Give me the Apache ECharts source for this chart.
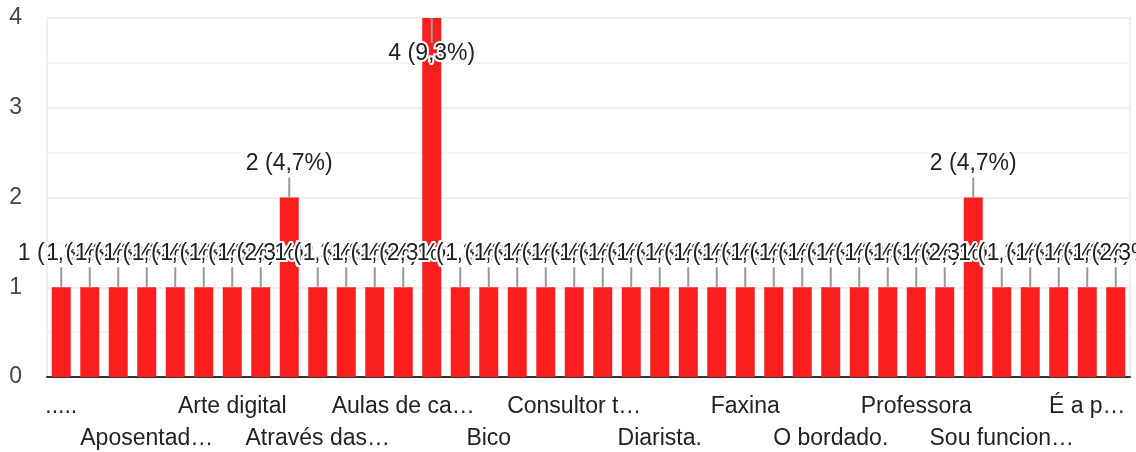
<!DOCTYPE html>
<html><head><meta charset="utf-8">
<script src="https://cdn.jsdelivr.net/npm/echarts@6/dist/echarts.min.js"></script>
<style>html,body{margin:0;padding:0;background:#fff}#c{width:1136px;height:452px}</style>
</head><body><div id="c"></div>
<script>
const categories = [".....","Administradora","Agricultor","Aposentad…","Aposentadoria","Arquiteta","Arte digital","Artesã","Artesanato","Através das…","Auditoria","Audiovisual","Aulas de ca…","Autônoma","Babá","Bico","Comércio","Confeitaria","Consultor t…","Costureira","Cuidadora","Diarista.","Doceira","Empresária","Faxina","Freelancer","Manicure","O bordado.","Pedreiro","Pensão","Professora","Revendedora","Servidor público","Sou funcion…","Trabalho informal","Uber","É a p…","Única renda"];
const values = [1,1,1,1,1,1,1,1,2,1,1,1,1,4,1,1,1,1,1,1,1,1,1,1,1,1,1,1,1,1,1,1,2,1,1,1,1,1];
const yTicks = [0,1,2,3,4];
const total = values.reduce((a,b)=>a+b,0);
const yMax = yTicks[yTicks.length-1];
const FONT = '"Liberation Sans", Arial, sans-serif';
const fmtPct = v => v + ' (' + (v/total*100).toFixed(1).replace('.', ',') + '%)';

const barData = values.map(v => {
  const d = {value: v};
  if (v >= yMax) d.label = {position: 'insideTop', distance: 24};
  return d;
});

const xLabelStyle = {fontFamily: FONT, fontSize: 23, color: '#222', hideOverlap: false};

const chart = echarts.init(document.getElementById('c'));
chart.setOption({
  animation: false,
  grid: {left: 47, right: 6, top: 18, bottom: 75, show: true, borderColor: '#eeeeee', borderWidth: 2, containLabel: false},
  xAxis: [{
    type: 'category', data: categories, position: 'bottom',
    axisLine: {lineStyle: {color: '#333', width: 2}},
    axisTick: {show: false},
    axisLabel: Object.assign({interval: i => i % 6 === 0, margin: 18}, xLabelStyle)
  }, {
    type: 'category', data: categories, position: 'bottom',
    axisLine: {show: false},
    axisTick: {show: false},
    axisLabel: Object.assign({interval: i => i % 6 === 3, margin: 50}, xLabelStyle)
  }],
  yAxis: {
    type: 'value', min: yTicks[0], max: yMax, interval: 1,
    axisLine: {show: false}, axisTick: {show: false},
    axisLabel: {fontFamily: FONT, fontSize: 23, color: '#444', margin: 25},
    splitLine: {lineStyle: {color: '#eeeeee', width: 2}},
    minorTick: {show: false, splitNumber: 2},
    minorSplitLine: {show: true, lineStyle: {color: '#f6f6f6', width: 2}}
  },
  series: [{
    type: 'bar', data: barData, barWidth: 19, z: 2, xAxisIndex: 0,
    itemStyle: {color: '#fa1e1e'},
    label: {
      show: true, position: 'top', distance: 22,
      formatter: p => fmtPct(p.value),
      fontFamily: FONT, fontSize: 23, color: '#222',
      textBorderColor: '#fff', textBorderWidth: 4
    }
  }, {
    type: 'custom', z: 3, silent: true, xAxisIndex: 0,
    data: values.map((v,i) => [i, v]),
    renderItem: (params, api) => {
      const v = api.value(1);
      const p = api.coord([api.value(0), v]);
      const y2 = v >= yMax ? p[1] + 25 : p[1] - 20;
      return {type: 'line', shape: {x1: p[0], y1: p[1], x2: p[0], y2: y2}, style: {stroke: '#999', lineWidth: 2}};
    }
  }]
});
</script></body></html>
